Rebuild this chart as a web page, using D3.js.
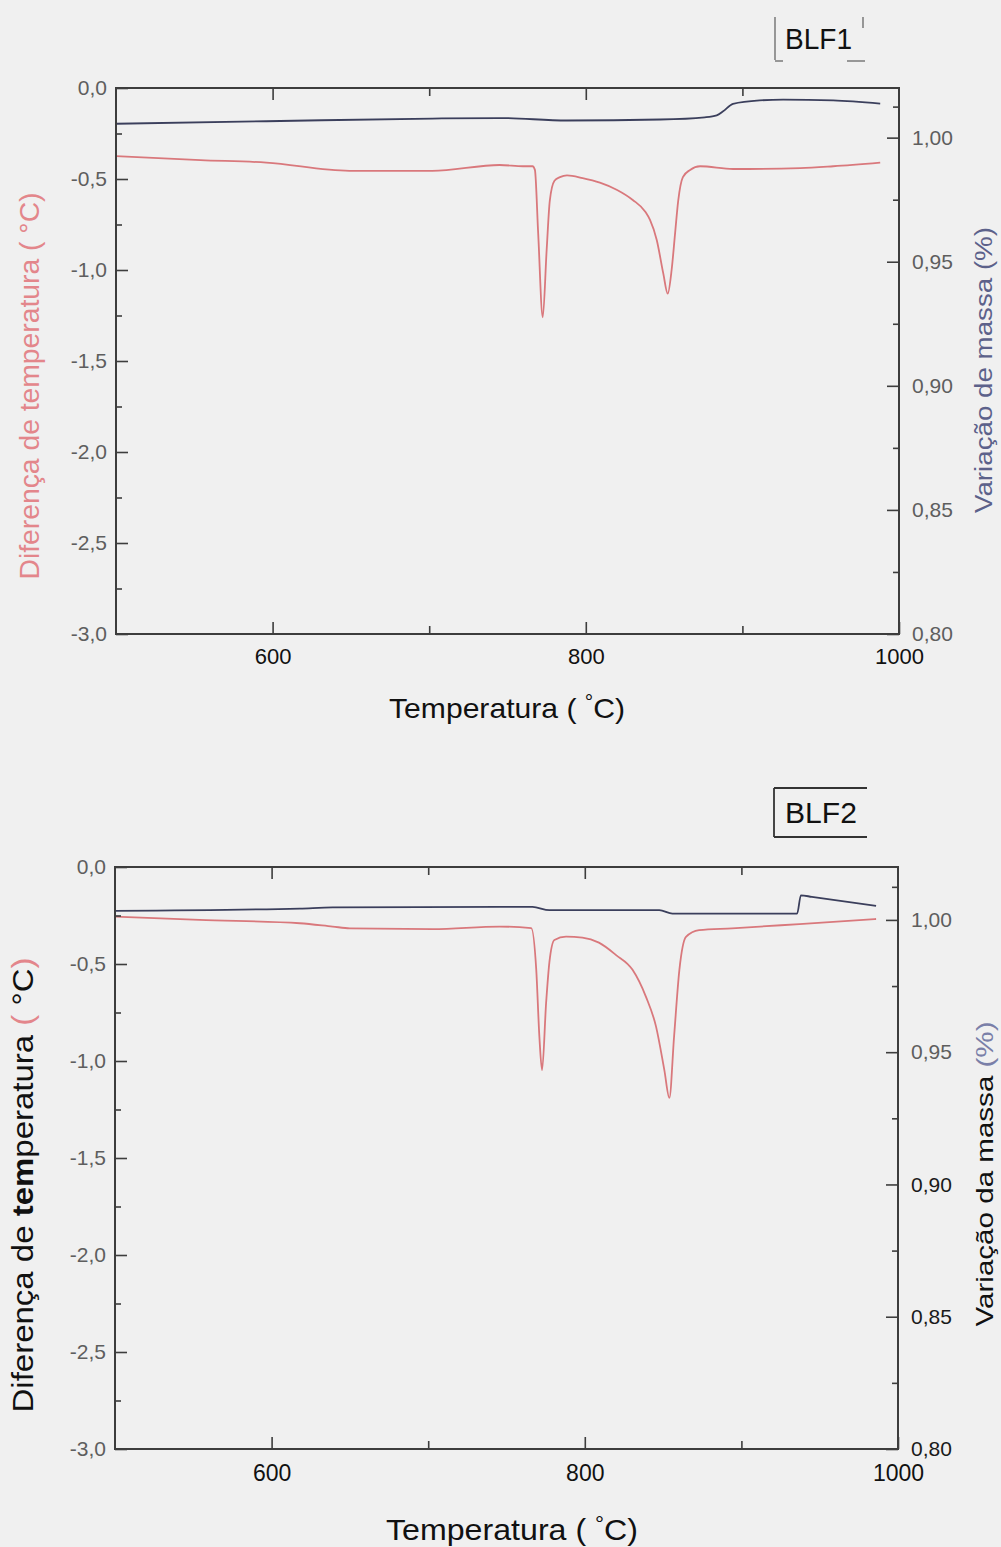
<!DOCTYPE html>
<html>
<head>
<meta charset="utf-8">
<script src="https://cdn.jsdelivr.net/npm/d3@7"></script>
<style>
  html, body { margin: 0; padding: 0; background: #f0f0f0; }
  svg { display: block; font-family: "Liberation Sans", Arial, sans-serif; }
</style>
</head>
<body>
<svg id="chart" width="1001" height="1547"></svg>
<script>
// ---- shared axis values ----
const temperatureDomain = [500, 1000];
const dtaDomain = [-3, 0];
const massDomain = [0.80, 1.02];
const temperatureTicks = [600, 800, 1000];
const temperatureMinorTicks = [700, 900];
const dtaTicks = [0, -0.5, -1, -1.5, -2, -2.5, -3];
const dtaMinorTicks = [-0.25, -0.75, -1.25, -1.75, -2.25, -2.75];
const massTicks = [0.80, 0.85, 0.90, 0.95, 1.00];
const massMinorTicks = [0.825, 0.875, 0.925, 0.975, 1.0125];

// ---- BLF1: DTA curve (temperature difference, °C) ----
const blf1DtaTemp = [500, 554, 596, 649, 702, 745, 760, 766, 767.5, 769.6, 772.5, 775, 777, 780, 783.5, 788, 798, 809, 820, 830, 838, 841, 845.3, 849.5, 852.3, 854.8, 857, 859, 862, 866.6, 873, 894, 937, 958, 988];
const blf1Dta = [-0.374, -0.396, -0.41, -0.455, -0.455, -0.423, -0.43, -0.43, -0.45, -0.80, -1.26, -0.89, -0.62, -0.51, -0.49, -0.48, -0.495, -0.52, -0.56, -0.615, -0.68, -0.725, -0.835, -1.02, -1.13, -1.0, -0.80, -0.62, -0.49, -0.45, -0.43, -0.445, -0.44, -0.43, -0.41];

// ---- BLF1: TG curve (mass variation) ----
const blf1MassTemp = [500, 596, 702, 745, 788, 847.6, 876, 883.6, 887.7, 894, 911, 926, 958, 988];
const blf1Mass = [1.0056, 1.0066, 1.0077, 1.0079, 1.0069, 1.0073, 1.0082, 1.009, 1.0106, 1.0136, 1.015, 1.0153, 1.015, 1.0137];

// ---- BLF2: DTA curve ----
const blf2DtaTemp = [500, 554, 618, 639, 650, 703, 745.6, 765.8, 769, 771, 772.7, 775.3, 777.4, 780.6, 788, 798.5, 809, 820, 830.5, 839, 845.5, 850.8, 854, 857, 860.4, 864.6, 873, 894, 937, 986];
const blf2Dta = [-0.256, -0.273, -0.29, -0.307, -0.316, -0.32, -0.307, -0.315, -0.53, -0.875, -1.047, -0.70, -0.49, -0.376, -0.359, -0.364, -0.39, -0.454, -0.53, -0.668, -0.823, -1.047, -1.19, -0.875, -0.53, -0.36, -0.325, -0.316, -0.294, -0.268];

// ---- BLF2: TG curve ----
const blf2MassTemp = [500, 618, 639, 745.6, 766.6, 777.4, 847.6, 856, 935.6, 938, 945, 986];
const blf2Mass = [1.0034, 1.0043, 1.0047, 1.0049, 1.0049, 1.0037, 1.0037, 1.0024, 1.0024, 1.0093, 1.0087, 1.0053];

// ---- number formatting with decimal comma ----
const locale = d3.formatLocale({ decimal: ",", thousands: ".", grouping: [3], currency: ["", ""], minus: "-" });
const fmt1 = locale.format(".1f");
const fmt2 = locale.format(".2f");

const svg = d3.select("#chart");

const AXIS = "#3d3d3d";
const RED = "#d9787c";
const BLUE = "#3b3f5c";

function drawPanel(cfg) {
  const x = d3.scaleLinear().domain(temperatureDomain).range([cfg.left, cfg.right]);
  const yL = d3.scaleLinear().domain(dtaDomain).range([cfg.bottom, cfg.top]);
  const yR = d3.scaleLinear().domain(massDomain).range([cfg.bottom, cfg.top]);

  const g = svg.append("g");

  // curves
  const dtaPts = cfg.dtaTemp.map((t, i) => [t, cfg.dta[i]]);
  const massPts = cfg.massTemp.map((t, i) => [t, cfg.mass[i]]);
  g.append("path")
    .attr("d", d3.line().x(d => x(d[0])).y(d => yR(d[1])).curve(d3.curveMonotoneX)(massPts))
    .attr("fill", "none").attr("stroke", BLUE).attr("stroke-width", 1.8);
  g.append("path")
    .attr("d", d3.line().x(d => x(d[0])).y(d => yL(d[1])).curve(d3.curveMonotoneX)(dtaPts))
    .attr("fill", "none").attr("stroke", RED).attr("stroke-width", 1.8);

  // frame
  g.append("rect")
    .attr("x", cfg.left).attr("y", cfg.top)
    .attr("width", cfg.right - cfg.left).attr("height", cfg.bottom - cfg.top)
    .attr("fill", "none").attr("stroke", AXIS).attr("stroke-width", 2);

  function styleAxis(sel, size, color) {
    sel.select(".domain").remove();
    sel.selectAll(".tick line").attr("stroke", AXIS).attr("stroke-width", 1.6);
    sel.selectAll(".tick text").attr("fill", color).style("font-size", size + "px")
      .style("font-family", "'Liberation Sans', Arial, sans-serif");
  }

  // left axis
  g.append("g").attr("transform", `translate(${cfg.left},0)`)
    .call(d3.axisLeft(yL).tickValues(dtaTicks).tickSize(-12).tickPadding(9).tickFormat(fmt1))
    .call(s => styleAxis(s, 21, "#5e5e5e"));
  g.append("g").attr("transform", `translate(${cfg.left},0)`)
    .call(d3.axisLeft(yL).tickValues(dtaMinorTicks).tickSize(-6).tickFormat(""))
    .call(s => styleAxis(s, 21, "#5e5e5e"));

  // right axis
  g.append("g").attr("transform", `translate(${cfg.right},0)`)
    .call(d3.axisRight(yR).tickValues(massTicks).tickSize(-12).tickPadding(13).tickFormat(fmt2))
    .call(s => styleAxis(s, 21, "#5e5e5e"))
    .call(s => s.selectAll(".tick text").attr("fill", d => d < cfg.darkMassBelow ? "#1a1a1a" : "#5e5e5e"));
  g.append("g").attr("transform", `translate(${cfg.right},0)`)
    .call(d3.axisRight(yR).tickValues(massMinorTicks).tickSize(-6).tickFormat(""))
    .call(s => styleAxis(s, 21, "#5e5e5e"));

  // bottom axis
  g.append("g").attr("transform", `translate(0,${cfg.bottom})`)
    .call(d3.axisBottom(x).tickValues(temperatureTicks).tickSize(-12).tickPadding(cfg.xPad).tickFormat(d3.format("d")))
    .call(s => styleAxis(s, cfg.xTickFont, "#111"));
  g.append("g").attr("transform", `translate(0,${cfg.bottom})`)
    .call(d3.axisBottom(x).tickValues(temperatureMinorTicks).tickSize(-8).tickFormat(""))
    .call(s => styleAxis(s, 21, "#111"));

  // top axis (ticks only)
  g.append("g").attr("transform", `translate(0,${cfg.top})`)
    .call(d3.axisTop(x).tickValues([600, 800]).tickSize(-12).tickFormat(""))
    .call(s => styleAxis(s, 21, "#111"));
  g.append("g").attr("transform", `translate(0,${cfg.top})`)
    .call(d3.axisTop(x).tickValues(temperatureMinorTicks).tickSize(-8).tickFormat(""))
    .call(s => styleAxis(s, 21, "#111"));

  // x title
  const xt = g.append("text")
    .attr("x", cfg.xTitle.x).attr("y", cfg.xTitle.y)
    .attr("font-size", cfg.xTitle.size).attr("fill", "#111")
    .attr("textLength", cfg.xTitle.len).attr("lengthAdjust", "spacingAndGlyphs");
  xt.append("tspan").text("Temperatura ( ");
  xt.append("tspan").attr("font-size", cfg.xTitle.size * 0.7).attr("dy", -9).text("°");
  xt.append("tspan").attr("dy", 9).text("C)");

  // left title
  const lt = g.append("text")
    .attr("transform", `translate(${cfg.leftTitle.x},${cfg.leftTitle.cy}) rotate(-90)`)
    .attr("text-anchor", "middle").attr("font-size", cfg.leftTitle.size)
    .attr("textLength", cfg.leftTitle.len).attr("lengthAdjust", "spacingAndGlyphs");
  cfg.leftTitle.parts.forEach(p => {
    const t = lt.append("tspan").attr("fill", p.color).text(p.text);
    if (p.bold) t.attr("font-weight", "bold");
  });

  // right title
  const rt = g.append("text")
    .attr("transform", `translate(${cfg.rightTitle.x},${cfg.rightTitle.cy}) rotate(-90)`)
    .attr("text-anchor", "middle").attr("font-size", cfg.rightTitle.size)
    .attr("textLength", cfg.rightTitle.len).attr("lengthAdjust", "spacingAndGlyphs");
  cfg.rightTitle.parts.forEach(p => rt.append("tspan").attr("fill", p.color).text(p.text));

  // sample tag
  g.append("text")
    .attr("x", cfg.tag.x).attr("y", cfg.tag.y)
    .attr("font-size", 29).attr("fill", "#111")
    .attr("textLength", cfg.tag.len).attr("lengthAdjust", "spacingAndGlyphs")
    .text(cfg.tag.text);
  g.selectAll("line.tagbox").data(cfg.tag.box).enter().append("line")
    .attr("class", "tagbox")
    .attr("x1", d => d[0]).attr("y1", d => d[1]).attr("x2", d => d[2]).attr("y2", d => d[3])
    .attr("stroke", cfg.tag.boxColor).attr("stroke-width", cfg.tag.boxWidth);
}

drawPanel({
  left: 116, right: 899, top: 88, bottom: 634,
  dtaTemp: blf1DtaTemp, dta: blf1Dta, massTemp: blf1MassTemp, mass: blf1Mass,
  darkMassBelow: 0,
  xPad: 14, xTickFont: 22,
  xTitle: { x: 389, y: 718, size: 28, len: 236 },
  leftTitle: { x: 39, cy: 386, size: 27, len: 387,
    parts: [{ text: "Diferença de temperatura ( °C)", color: "#e3868b" }] },
  rightTitle: { x: 992, cy: 370, size: 23, len: 286,
    parts: [{ text: "Variação de massa (%)", color: "#5c618a" }] },
  tag: { text: "BLF1", x: 785, y: 49, len: 67, boxColor: "#666", boxWidth: 1.3,
    box: [[775, 17, 775, 60], [775, 61, 783, 61], [847, 61, 865, 61], [863, 17, 863, 28]] }
});

drawPanel({
  left: 115, right: 898, top: 867, bottom: 1449,
  dtaTemp: blf2DtaTemp, dta: blf2Dta, massTemp: blf2MassTemp, mass: blf2Mass,
  darkMassBelow: 0.93,
  xPad: 16, xTickFont: 23,
  xTitle: { x: 386, y: 1540, size: 30, len: 252 },
  leftTitle: { x: 33, cy: 1185, size: 30, len: 455,
    parts: [
      { text: "Diferença de ", color: "#111" },
      { text: "tem", color: "#111", bold: true },
      { text: "peratura ", color: "#111" },
      { text: "(", color: "#e3868b" },
      { text: " °C", color: "#111" },
      { text: ")", color: "#e3868b" }
    ] },
  rightTitle: { x: 993, cy: 1174, size: 24, len: 305,
    parts: [{ text: "Variação da massa ", color: "#111" }, { text: "(%)", color: "#7a7fa8" }] },
  tag: { text: "BLF2", x: 785, y: 823, len: 72, boxColor: "#333", boxWidth: 1.8,
    box: [[774, 788, 774, 837], [774, 788, 867, 788], [774, 837, 867, 837]] }
});
</script>
</body>
</html>
